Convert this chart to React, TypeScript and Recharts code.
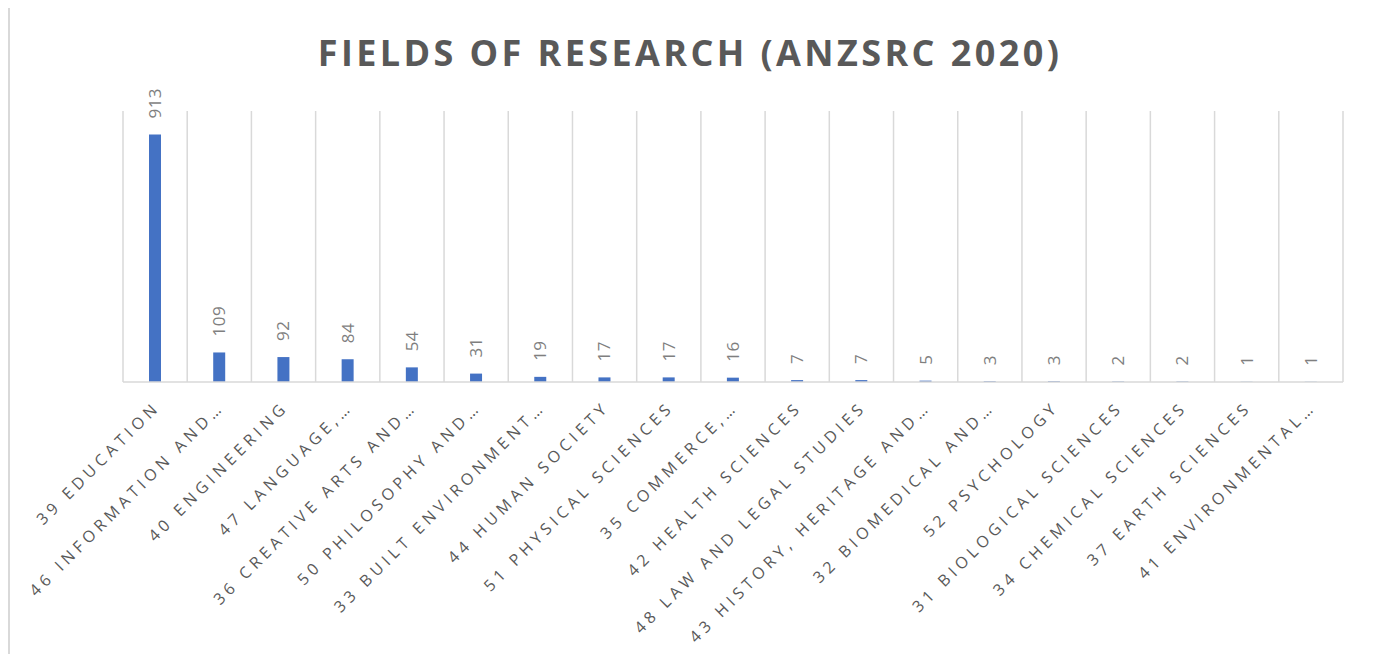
import { BarChart, Bar, XAxis, YAxis, CartesianGrid, LabelList } from 'recharts';

const categories = [
  '39 EDUCATION',
  '46 INFORMATION AND…',
  '40 ENGINEERING',
  '47 LANGUAGE,…',
  '36 CREATIVE ARTS AND…',
  '50 PHILOSOPHY AND…',
  '33 BUILT ENVIRONMENT…',
  '44 HUMAN SOCIETY',
  '51 PHYSICAL SCIENCES',
  '35 COMMERCE,…',
  '42 HEALTH SCIENCES',
  '48 LAW AND LEGAL STUDIES',
  '43 HISTORY, HERITAGE AND…',
  '32 BIOMEDICAL AND…',
  '52 PSYCHOLOGY',
  '31 BIOLOGICAL SCIENCES',
  '34 CHEMICAL SCIENCES',
  '37 EARTH SCIENCES',
  '41 ENVIRONMENTAL…',
];

const counts = [913, 109, 92, 84, 54, 31, 19, 17, 17, 16, 7, 7, 5, 3, 3, 2, 2, 1, 1];

const title = 'FIELDS OF RESEARCH (ANZSRC 2020)';

const data = categories.map((name, i) => ({ name, count: counts[i] }));

const FONT = '"Open Sans", "Noto Sans", sans-serif';

function CategoryTick({ x, y, payload }: any) {
  return (
    <g transform={`translate(${x + 6},${y + 26})`}>
      <text
        textAnchor="end"
        transform="rotate(-45)"
        fill="#595959"
        fontSize={16}
        fontFamily={FONT}
        letterSpacing={4.5}
      >
        {payload.value}
      </text>
    </g>
  );
}

function ValueLabel({ x, y, width, value }: any) {
  return (
    <text
      transform={`translate(${x + width / 2 + 6},${y - 16}) rotate(-90)`}
      textAnchor="start"
      fill="#7f7f7f"
      fontSize={17}
      fontFamily={FONT}
      letterSpacing={0.5}
    >
      {value}
    </text>
  );
}

// gridlines sit on the band edges, not on the band centres
const bandEdges = ({ offset }: any) =>
  Array.from({ length: categories.length + 1 }, (_, i) => offset.left + (i * offset.width) / categories.length);

export default function App() {
  return (
    <div
      style={{
        position: 'relative',
        marginTop: -3,
        width: 1364,
        height: 660,
        border: '2px solid #d9d9d9',
        boxSizing: 'border-box',
        background: '#fff',
      }}
    >
      <div
        style={{
          position: 'absolute',
          top: 21,
          left: 0,
          width: 1360,
          textAlign: 'center',
          fontFamily: FONT,
          fontWeight: 700,
          fontSize: 36,
          letterSpacing: 3.4,
          color: '#595959',
        }}
      >
        {title}
      </div>
      <BarChart width={1360} height={656} data={data} margin={{ top: 104, right: 27, left: 113, bottom: 81 }}>
        <CartesianGrid
          horizontal={false}
          stroke="#d9d9d9"
          strokeWidth={1.5}
          verticalCoordinatesGenerator={bandEdges}
        />
        <XAxis
          dataKey="name"
          interval={0}
          height={200}
          tickLine={false}
          tickSize={0}
          tickMargin={0}
          axisLine={{ stroke: '#d9d9d9', strokeWidth: 1.5 }}
          tick={<CategoryTick />}
        />
        <YAxis hide domain={[0, 1000]} />
        <Bar dataKey="count" fill="#4472C4" barSize={12} isAnimationActive={false}>
          <LabelList dataKey="count" content={<ValueLabel />} />
        </Bar>
      </BarChart>
    </div>
  );
}
